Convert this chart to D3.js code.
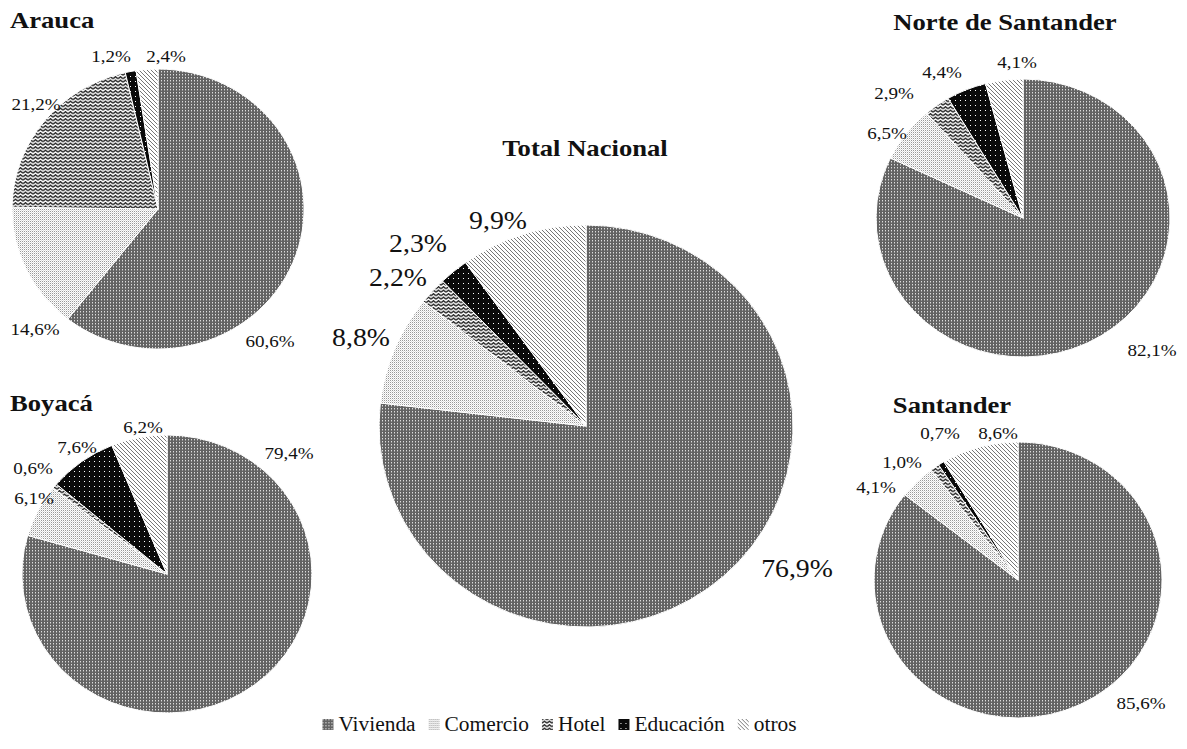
<!DOCTYPE html>
<html>
<head>
<meta charset="utf-8">
<script src="https://cdn.jsdelivr.net/npm/d3@7"></script>
<style>
  body { margin: 0; background: #fff; }
  text { font-family: "Liberation Serif", "Times New Roman", serif; fill: #111; }
</style>
</head>
<body>
<script>
// categories and shares (%) per department
const categories = ['Vivienda', 'Comercio', 'Hotel', 'Educación', 'otros'];
const arauca = [60.6, 14.6, 21.2, 1.2, 2.4];
const boyaca = [79.4, 6.1, 0.6, 7.6, 6.2];
const totalNacional = [76.9, 8.8, 2.2, 2.3, 9.9];
const norteSantander = [82.1, 6.5, 2.9, 4.4, 4.1];
const santander = [85.6, 4.1, 1.0, 0.7, 8.6];

const width = 1187, height = 749;

// layout of each pie: centre, radii, title and label offsets (from centre)
const pies = [
  {title: 'Arauca', values: arauca, cx: 158, cy: 209, rx: 146, ry: 140, fs: 17.5,
   titlePos: [10, 28, 'start'],
   labelPos: [[112, 132], [-123, 120], [-122, -105], [-47, -153], [8, -153]]},
  {title: 'Boyacá', values: boyaca, cx: 167, cy: 574, rx: 145, ry: 139, fs: 17.5,
   titlePos: [10, 411, 'start'],
   labelPos: [[122, -121], [-133, -76], [-134, -106], [-90, -127], [-24, -147]]},
  {title: 'Total Nacional', values: totalNacional, cx: 586, cy: 426, rx: 207, ry: 201, fs: 25.5,
   titlePos: [585, 156, 'middle'],
   labelPos: [[211, 142], [-225, -89], [-188, -149], [-168, -183], [-88, -206]]},
  {title: 'Norte de Santander', values: norteSantander, cx: 1023, cy: 218, rx: 147, ry: 139, fs: 17.5,
   titlePos: [1005, 30, 'middle'],
   labelPos: [[129, 132], [-136, -85], [-129, -125], [-81, -146], [-6, -156]]},
  {title: 'Santander', values: santander, cx: 1018, cy: 580, rx: 144, ry: 138, fs: 17.5,
   titlePos: [952, 413, 'middle'],
   labelPos: [[123, 123], [-142, -93], [-116, -118], [-78, -147], [-20, -147]]}
];

const svg = d3.select('body').append('svg')
    .attr('width', width)
    .attr('height', height);

// fill patterns (grey-scale hatching like the original)
const defs = svg.append('defs');

let p = defs.append('pattern').attr('id', 'pat0').attr('patternUnits', 'userSpaceOnUse')
    .attr('width', 3).attr('height', 3);
p.append('rect').attr('width', 3).attr('height', 3).attr('fill', '#636363');
p.append('rect').attr('x', 0).attr('y', 0).attr('width', 1).attr('height', 1).attr('fill', '#ddd');
p.append('rect').attr('x', 0).attr('y', 1).attr('width', 1).attr('height', 1).attr('fill', '#999');

p = defs.append('pattern').attr('id', 'pat1').attr('patternUnits', 'userSpaceOnUse')
    .attr('width', 2).attr('height', 2);
p.append('rect').attr('width', 2).attr('height', 2).attr('fill', '#fff');
p.append('rect').attr('x', 0).attr('y', 0).attr('width', 1).attr('height', 1).attr('fill', '#999');
p.append('rect').attr('x', 1).attr('y', 1).attr('width', 1).attr('height', 1).attr('fill', '#ddd');

p = defs.append('pattern').attr('id', 'pat2').attr('patternUnits', 'userSpaceOnUse')
    .attr('width', 5).attr('height', 3.5);
p.append('rect').attr('width', 5).attr('height', 3.5).attr('fill', '#fff');
p.append('path').attr('d', 'M0,2.6L2.5,0.8L5,2.6').attr('fill', 'none')
    .attr('stroke', '#222').attr('stroke-width', 1.5);

p = defs.append('pattern').attr('id', 'pat3').attr('patternUnits', 'userSpaceOnUse')
    .attr('width', 5).attr('height', 5);
p.append('rect').attr('width', 5).attr('height', 5).attr('fill', '#0a0a0a');
p.append('rect').attr('x', 2).attr('y', 2).attr('width', 1).attr('height', 1).attr('fill', '#fff');

p = defs.append('pattern').attr('id', 'pat4').attr('patternUnits', 'userSpaceOnUse')
    .attr('width', 4).attr('height', 4);
p.append('rect').attr('width', 4).attr('height', 4).attr('fill', '#fff');
p.append('path').attr('d', 'M-1,-1L5,5M3,-1L5,1M-1,3L1,5').attr('fill', 'none')
    .attr('stroke', '#777').attr('stroke-width', 1);

const fillScale = d3.scaleOrdinal()
    .domain(categories)
    .range(categories.map((c, i) => `url(#pat${i})`));

const pie = d3.pie().sort(null).value(d => d.value);

// elliptical slice, angles clockwise from 12 o'clock
function slicePath(d, rx, ry) {
  const x0 = rx * Math.sin(d.startAngle), y0 = -ry * Math.cos(d.startAngle);
  const x1 = rx * Math.sin(d.endAngle), y1 = -ry * Math.cos(d.endAngle);
  const large = d.endAngle - d.startAngle > Math.PI ? 1 : 0;
  return `M0,0L${x0},${y0}A${rx},${ry} 0 ${large} 1 ${x1},${y1}Z`;
}

const fmt = v => v.toFixed(1).replace('.', ',') + '%';

pies.forEach(cfg => {
  const data = cfg.values.map((v, i) => ({cat: categories[i], value: v}));
  const g = svg.append('g').attr('transform', `translate(${cfg.cx},${cfg.cy})`);

  g.selectAll('.slice')
      .data(pie(data))
      .join('path')
      .attr('class', 'slice')
      .attr('d', d => slicePath(d, cfg.rx, cfg.ry))
      .attr('fill', d => fillScale(d.data.cat))
      .attr('stroke', '#fff')
      .attr('stroke-width', 1);

  g.selectAll('.lbl')
      .data(pie(data))
      .join('text')
      .attr('class', 'lbl')
      .attr('transform', (d, i) => `translate(${cfg.labelPos[i][0]},${cfg.labelPos[i][1]}) scale(1.09,1)`)
      .attr('text-anchor', 'middle')
      .attr('dy', '0.35em')
      .style('font-size', cfg.fs + 'px')
      .text(d => fmt(d.data.value));

  svg.append('text')
      .attr('transform', `translate(${cfg.titlePos[0]},${cfg.titlePos[1]}) scale(1.11,1)`)
      .attr('text-anchor', cfg.titlePos[2])
      .style('font-size', '24px')
      .style('font-weight', 'bold')
      .text(cfg.title);
});

// legend, centred under the chart
const legend = svg.append('g').attr('class', 'legend');
const items = legend.selectAll('.item')
    .data(categories)
    .join('g')
    .attr('class', 'item');
items.append('rect')
    .attr('y', -12)
    .attr('width', 11)
    .attr('height', 11)
    .attr('fill', d => fillScale(d));
items.append('text')
    .attr('x', 16 / 1.07)
    .attr('transform', 'scale(1.07,1)')
    .style('font-size', '20px')
    .text(d => d);

let xPos = 0;
items.each(function() {
  const w = d3.select(this).select('text').node().getComputedTextLength() * 1.07;
  d3.select(this).attr('transform', `translate(${xPos},0)`);
  xPos += 16 + w + 13;
});
const legendW = xPos - 13;
legend.attr('transform', `translate(${559.5 - legendW / 2},731)`);
</script>
</body>
</html>
